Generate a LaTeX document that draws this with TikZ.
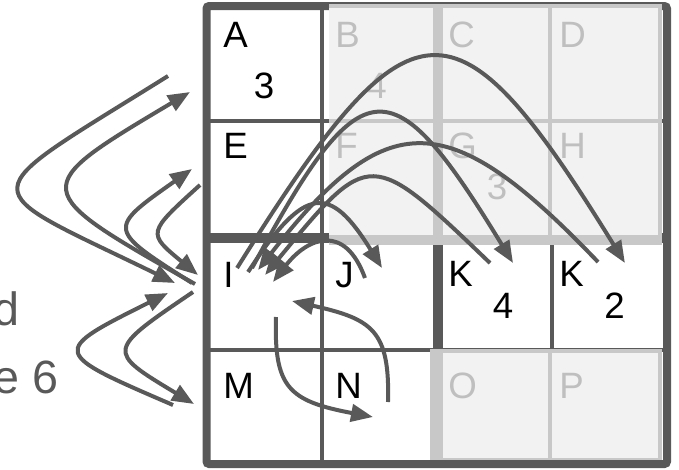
\documentclass[tikz,border=0pt]{standalone}
\usepackage{fontspec}
\setmainfont{Liberation Sans}
\usetikzlibrary{arrows.meta}

\definecolor{ink}{RGB}{89,89,89}
\definecolor{pale}{RGB}{200,200,200}
\definecolor{greyfill}{RGB}{242,242,242}
\definecolor{faded}{RGB}{191,191,191}

\tikzset{cell/.style={draw=ink,line width=3pt,minimum width=86.34pt,
        minimum height=85.875pt,inner sep=0pt,outer sep=0pt},
    tag/.style={anchor=base west,inner sep=0pt,font=\fontsize{27.5}{30}\selectfont},
    dim/.style={tag,text=faded},
    side/.style={anchor=base east,inner sep=0pt,text=ink,font=\fontsize{35}{40}\selectfont},
    flow/.style={draw=ink,line width=3pt,-{Triangle[length=16.5pt,width=13pt]}},
    }

\begin{document}
\begin{tikzpicture}[x=0.75pt,y=-0.75pt]
	\useasboundingbox (0,0) rectangle (679,469);
	% the 4x4 grid of cells
	\node[cell] (A) at (264.06,63.25) {}; \node[cell] (B) at (379.19,63.25) {};
	\node[cell] (C) at (494.31,63.25) {}; \node[cell] (D) at (609.44,63.25) {};
	\node[cell] (E) at (264.06,177.75) {}; \node[cell] (F) at (379.19,177.75) {};
	\node[cell] (G) at (494.31,177.75) {}; \node[cell] (H) at (609.44,177.75) {};
	\node[cell] (I) at (264.06,292.25) {}; \node[cell] (J) at (379.19,292.25) {};
	\node[cell] (K) at (494.31,292.25) {}; \node[cell] (L) at (609.44,292.25) {};
	\node[cell] (M) at (264.06,406.75) {}; \node[cell] (N) at (379.19,406.75) {};
	\node[cell] (O) at (494.31,406.75) {}; \node[cell] (P) at (609.44,406.75) {};
	% block borders and frame
	\draw[ink,line width=7.5pt] (438,6) -- (438,464);
	\draw[ink,line width=7.5pt] (206.5,238) -- (667,238);
	\draw[ink,line width=6pt,rounded corners=2pt] (206.5,6) rectangle (667,464);
	% greyed out blocks
	\fill[greyfill] (329,4) rectangle (662,244.5);
	\draw[pale,line width=3pt] (329,6) -- (660,6) -- (660,244.5);
	\draw[pale,line width=3pt] (329,120.5) -- (660,120.5);
	\draw[pale,line width=3pt] (550,4) -- (550,244.5);
	\draw[pale,line width=7.5pt] (438,4) -- (438,244.5);
	\draw[pale,line width=7.5pt] (329,239.5) -- (662,239.5);
	\fill[greyfill] (430,349) rectangle (662,460);
	\draw[pale,line width=3pt] (430,351) -- (660,351) -- (660,460);
	\draw[pale,line width=2pt] (430,459) -- (660,459);
	\draw[pale,line width=3pt] (550,349) -- (550,460);
	\draw[pale,line width=9.75pt] (436.5,349) -- (436.5,460);
	% letters and counts
	\node[tag] (a) at (223,47) {A}; \node[dim] (b) at (335,47) {B};
	\node[dim] (c) at (448,47) {C}; \node[dim] (d) at (559,47) {D};
	\node[tag] (e) at (223,158) {E}; \node[dim] (f) at (335,158) {F};
	\node[dim] (g) at (448,158) {G}; \node[dim] (h) at (559,158) {H};
	\node[tag] (i) at (223,287) {I}; \node[tag] (j) at (335,287) {J};
	\node[tag] (k) at (448,286) {K}; \node[tag] (l) at (559,286) {K};
	\node[tag] (m) at (223,398) {M}; \node[tag] (n) at (335,398) {N};
	\node[dim] (o) at (448,398) {O}; \node[dim] (p) at (559,398) {P};
	\node[tag] (n1) at (253.5,98.5) {3};
	\node[dim] (n2) at (366,98.5) {4};
	\node[dim] (n3) at (486.5,199.5) {3};
	\node[tag] (n4) at (492.5,318.5) {4};
	\node[tag] (n5) at (604,318.5) {2};
	\node[side] (s1) at (20,325) {d};
	\node[side] (s2) at (59,393) {e 6};
	% round trips on the left
	\draw[flow] ([shift={(-38.5,12.75)}]A.west) .. controls +(-200,125) and +(-205,-100) .. ([shift={(-31.5,-9.25)}]I.west);
	\draw[flow] ([shift={(-11.5,-8.25)}]I.west) .. controls +(-168,-95) and +(-163,97) .. ([shift={(-16.5,28.75)}]A.west);
	\draw[flow] ([shift={(-14.5,-9.25)}]I.west) .. controls +(-85,-54) and +(-85,60) .. ([shift={(-14.5,-8.75)}]E.west);
	\draw[flow] ([shift={(-6.5,7.25)}]E.west) .. controls +(-53,48) and +(-51,-42) .. ([shift={(-8.5,-17.25)}]I.west);
	\draw[flow] ([shift={(-33.5,-1.75)}]M.west) .. controls +(-123,-53) and +(-118,59) .. ([shift={(-38.5,0.75)}]I.west);
	\draw[flow] ([shift={(-13.5,-0.25)}]I.west) .. controls +(-87,59) and +(-88,-53) .. ([shift={(-12.5,-2.75)}]M.west);
	% arcs over the top
	\draw[flow] ([shift={(-27,-24.25)}]I.center) .. controls +(175,-280) and +(-170,-275) .. ([shift={(15.5,-29.25)}]L.center);
	\draw[flow] ([shift={(-12,-24.25)}]I.center) .. controls +(110,-204) and +(-122,-200) .. ([shift={(18.7,-29.25)}]K.center);
	\draw[flow] ([shift={(-4.3,-29.25)}]K.center) .. controls +(-120,-115) and +(105,-127) .. ([shift={(1,-17.25)}]I.center);
	\draw[flow] ([shift={(-11.4,-30.25)}]L.center) .. controls +(-150,-157) and +(129,-165) .. ([shift={(-6,-22.25)}]I.center);
	\draw[flow] ([shift={(-16,-20.25)}]I.center) .. controls +(57,-88) and +(-52,-84) .. ([shift={(2.8,-24.25)}]J.center);
	\draw[flow] ([shift={(-14.2,-14.25)}]J.center) .. controls +(-20,-55) and +(35,-45) .. ([shift={(8.9,-10.25)}]I.center);
	% loop through N
	\draw[flow] ([shift={(8.8,-4.75)}]N.center) .. controls +(2,-72) and +(80,18) .. ([shift={(27.9,8.75)}]I.center);
	\draw[flow] ([shift={(11.9,24.75)}]I.center) .. controls +(-2,70) and +(-85,-16) .. ([shift={(-6.2,10.25)}]N.center);
\end{tikzpicture}
\end{document}
